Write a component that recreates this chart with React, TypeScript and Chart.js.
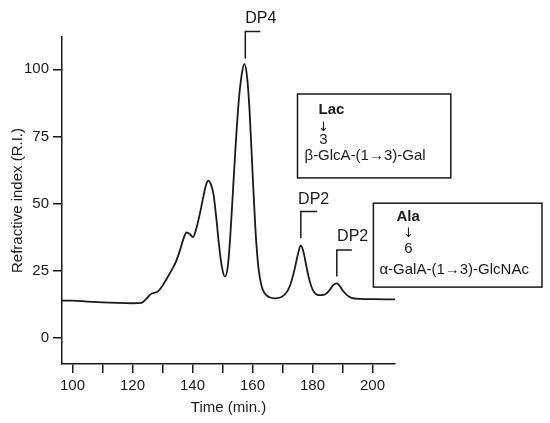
import React, { useEffect, useRef } from 'react';
import { Chart, registerables } from 'chart.js';

Chart.register(...registerables);

// Chromatogram trace
const timeMin = [
  96.5, 100, 105, 110, 115, 120, 123, 124.5, 126, 128.5, 130, 131.5, 133, 134.5, 136, 137, 138, 139,
  140.2, 141.2, 142.5, 143.5, 144.5, 145.3, 146.2, 147, 148, 148.8, 149.8, 150.8, 151.8, 152.6,
  153.5, 154.4, 155.4, 156.4, 157.3, 158.2, 159, 160, 161, 162, 163, 164, 165.5, 167.5, 169.5,
  171, 172.5, 174, 175.2, 176.1, 177, 178, 179, 180.3, 182, 184, 185.5, 187, 188, 189, 190,
  191.5, 193, 196, 200, 207.5,
];
const refractiveIndex = [
  14.0, 14.0, 13.6, 13.3, 13.1, 13.0, 13.1, 14.5, 16.3, 17.4, 19.5, 22.3, 25.2, 28.5, 33.3, 37, 39.3, 38.8,
  37.6, 40.5, 46.5, 52, 57, 58.6, 57, 53.5, 44, 35, 26.5, 22.9, 27, 38,
  55, 72, 88, 98, 102, 97, 85, 62, 40, 26, 19.5, 16.8, 15.3, 14.8, 15.2,
  16.5, 19.5, 25.5, 31.5, 34.5, 32, 26.5, 21.5, 17.5, 16, 16.2, 17.6, 19.8, 20.4, 19.6, 17.8,
  16, 15, 14.6, 14.5, 14.4,
];

const xTickValues = [100, 110, 120, 130, 140, 150, 160, 170, 180, 190, 200];
const yTickValues = [0, 25, 50, 75, 100];

// Peak labels (bracket foot time, bracket bottom/top value, bracket end time, text)
const peakLabels = ['DP4', 'DP2', 'DP2'];
const peakTimes = [157.6, 176.1, 188.1];
const peakBracketBottom = [104, 37.2, 22.9];
const peakBracketTop = [114, 47.1, 32.8];
const peakBracketEnd = [162.6, 181.5, 193.1];
const peakTextTime = [157.6, 175.2, 188.2];
const peakTextValue = [119, 51.4, 37.8];

// Structure boxes (data corners)
const boxLeft = [175, 200.3];
const boxRight = [226.1, 256.5];
const boxTop = [90.8, 50.2];
const boxBottom = [59.6, 19.0];
const boxSubstituent = ['Lac', 'Ala'];
const boxPosition = ['3', '6'];
const boxBackbone = ['β-GlcA-(1→3)-Gal', 'α-GalA-(1→3)-GlcNAc'];

const FONT = '"Liberation Sans", Arial, Helvetica, sans-serif';
const INK = '#1a1a1a';

const annotationPlugin = {
  id: 'chromAnnotations',
  afterDraw(chart: any) {
    const { ctx, scales } = chart;
    const x = scales.x;
    const y = scales.y;
    ctx.save();
    ctx.strokeStyle = INK;
    ctx.fillStyle = INK;
    ctx.lineWidth = 1.5;
    // peak brackets
    peakLabels.forEach((label, i) => {
      const px = x.getPixelForValue(peakTimes[i]);
      const yb = y.getPixelForValue(peakBracketBottom[i]);
      const yt = y.getPixelForValue(peakBracketTop[i]);
      const xe = x.getPixelForValue(peakBracketEnd[i]);
      ctx.beginPath();
      ctx.moveTo(px, yb);
      ctx.lineTo(px, yt);
      ctx.lineTo(xe, yt);
      ctx.stroke();
      ctx.font = `16px ${FONT}`;
      ctx.textAlign = 'left';
      ctx.textBaseline = 'middle';
      ctx.fillText(label, x.getPixelForValue(peakTextTime[i]), y.getPixelForValue(peakTextValue[i]));
    });
    // boxes
    const layouts = [
      { subX: 21, subY: 16, arrX: 26, arrY: 34, posX: 26, posY: 46, bbX: 7, bbY: 62 },
      { subX: 23, subY: 13.5, arrX: 35, arrY: 30, posX: 35, posY: 46, bbX: 6, bbY: 67 },
    ];
    boxSubstituent.forEach((sub, i) => {
      const l = x.getPixelForValue(boxLeft[i]);
      const r = x.getPixelForValue(boxRight[i]);
      const t = y.getPixelForValue(boxTop[i]);
      const b = y.getPixelForValue(boxBottom[i]);
      ctx.lineWidth = 1.5;
      ctx.strokeRect(l, t, r - l, b - t);
      const L = layouts[i];
      ctx.textBaseline = 'middle';
      ctx.textAlign = 'left';
      ctx.font = `bold 15px ${FONT}`;
      ctx.fillText(sub, l + L.subX, t + L.subY);
      ctx.textAlign = 'center';
      ctx.font = `13px "DejaVu Sans", sans-serif`;
      ctx.fillText('↓', l + L.arrX, t + L.arrY);
      ctx.font = `15px ${FONT}`;
      ctx.fillText(boxPosition[i], l + L.posX, t + L.posY);
      ctx.textAlign = 'left';
      ctx.fillText(boxBackbone[i], l + L.bbX, t + L.bbY);
    });
    ctx.restore();
  },
};

export default function App() {
  const canvasRef = useRef<HTMLCanvasElement | null>(null);

  useEffect(() => {
    if (!canvasRef.current) return;
    const chart = new Chart(canvasRef.current, {
      type: 'line',
      data: {
        datasets: [
          {
            data: timeMin.map((t, i) => ({ x: t, y: refractiveIndex[i] })),
            borderColor: INK,
            borderWidth: 1.8,
            pointRadius: 0,
            fill: false,
            cubicInterpolationMode: 'monotone',
          },
        ],
      },
      options: {
        animation: false,
        responsive: false,
        devicePixelRatio: 1,
        layout: { padding: { top: 37, right: 155, left: 0, bottom: 0 } },
        plugins: { legend: { display: false }, tooltip: { enabled: false } },
        scales: {
          x: {
            type: 'linear',
            min: 96.5,
            max: 207.5,
            afterBuildTicks: (s: any) => {
              s.ticks = xTickValues.map((v) => ({ value: v }));
            },
            afterFit: (s: any) => {
              s.height = 59;
            },
            border: { display: true, color: INK, width: 1.5 },
            grid: { display: true, drawOnChartArea: false, drawTicks: true, tickLength: 9, color: INK, lineWidth: 1.5 },
            ticks: {
              autoSkip: false,
              maxRotation: 0,
              padding: 4,
              color: INK,
              font: { family: FONT, size: 15 },
              callback: (v: any) => (Number(v) % 20 === 0 ? String(v) : ''),
            },
            title: {
              display: true,
              text: 'Time (min.)',
              color: INK,
              font: { family: FONT, size: 15 },
              padding: { top: 0, bottom: 6 },
            },
          },
          y: {
            type: 'linear',
            min: -9.6,
            max: 112,
            afterBuildTicks: (s: any) => {
              s.ticks = yTickValues.map((v) => ({ value: v }));
            },
            afterFit: (s: any) => {
              s.width = 62;
            },
            border: { display: true, color: INK, width: 1.5 },
            grid: { display: true, drawOnChartArea: false, drawTicks: true, tickLength: 9, color: INK, lineWidth: 1.5 },
            ticks: {
              padding: 4,
              color: INK,
              font: { family: FONT, size: 15 },
            },
            title: {
              display: true,
              text: 'Refractive index (R.I.)',
              color: INK,
              font: { family: FONT, size: 15 },
              padding: { top: 9, bottom: 0 },
            },
          },
        },
      },
      plugins: [annotationPlugin],
    } as any);
    return () => chart.destroy();
  }, []);

  return (
    <div style={{ position: 'absolute', left: 0, top: 0, width: 550, height: 423, background: '#fff' }}>
      <canvas ref={canvasRef} width={550} height={423} />
    </div>
  );
}
